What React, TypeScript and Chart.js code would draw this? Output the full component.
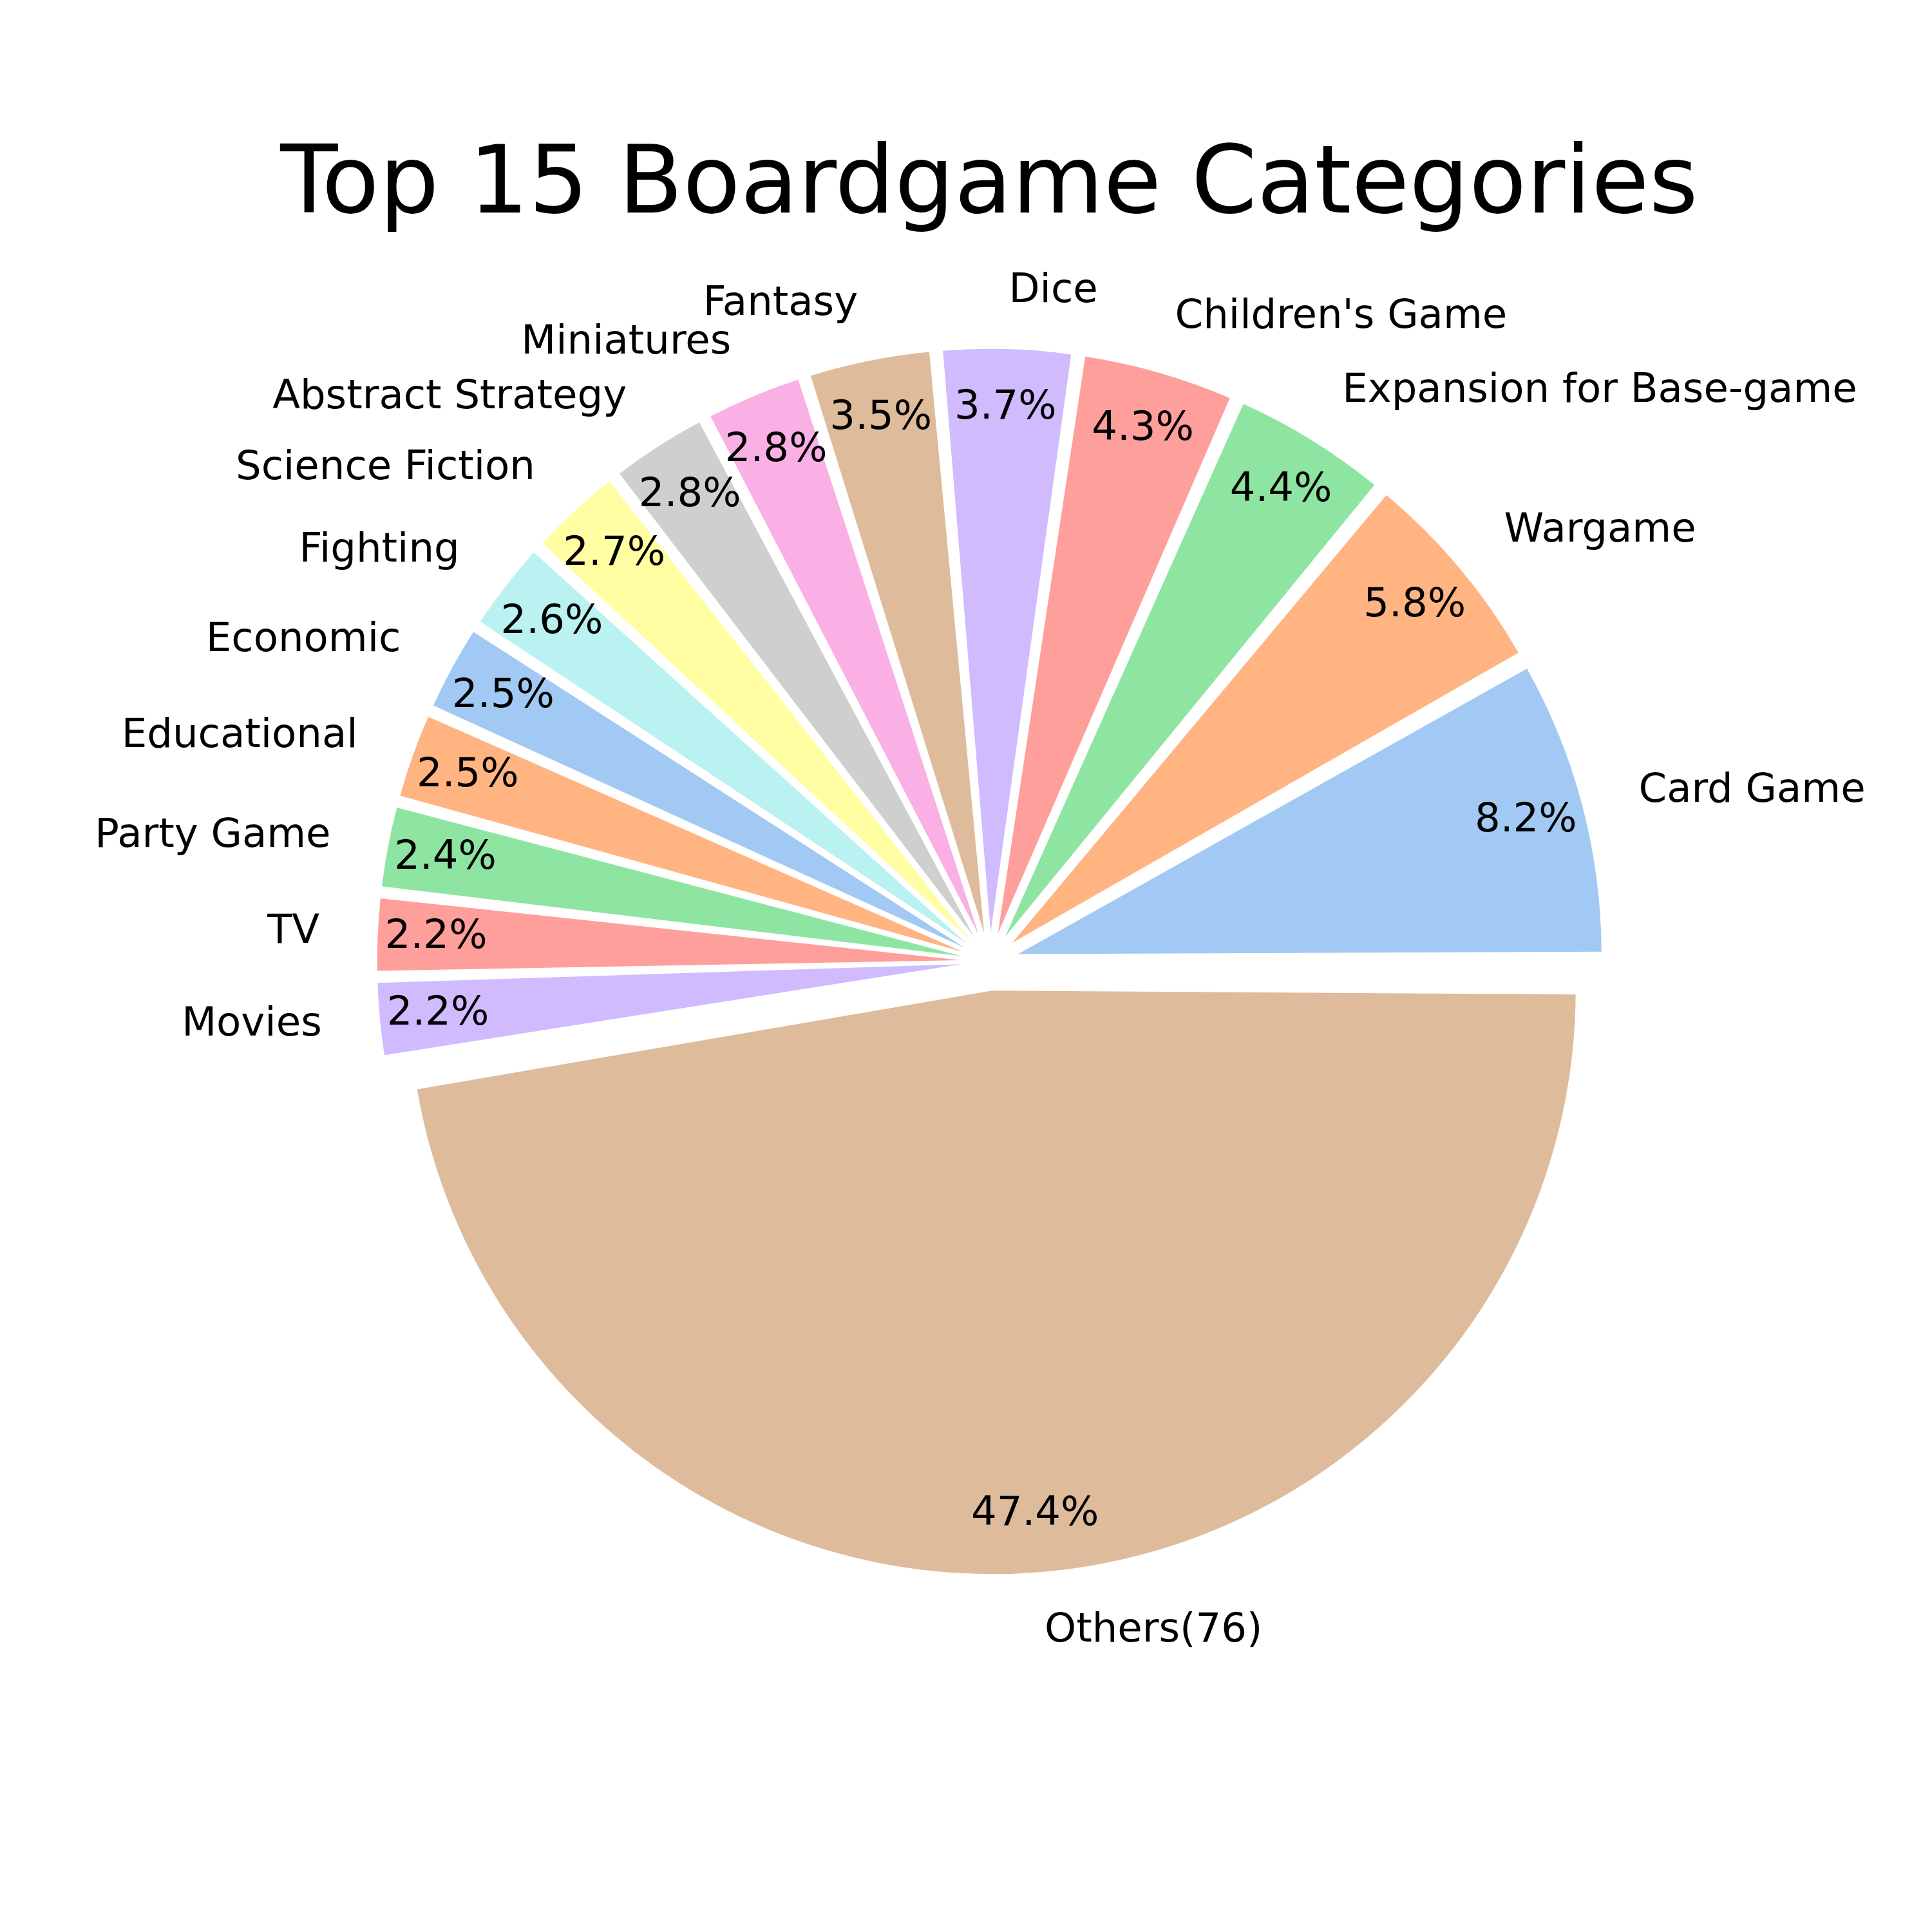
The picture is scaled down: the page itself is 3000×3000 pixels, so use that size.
import React, { useEffect, useRef } from "react";
import { Chart, registerables } from "chart.js";

Chart.register(...registerables);

const categories = [
  "Card Game",
  "Wargame",
  "Expansion for Base-game",
  "Children's Game",
  "Dice",
  "Fantasy",
  "Miniatures",
  "Abstract Strategy",
  "Science Fiction",
  "Fighting",
  "Economic",
  "Educational",
  "Party Game",
  "TV",
  "Movies",
  "Others(76)",
];

const shares = [8.2, 5.8, 4.4, 4.3, 3.7, 3.5, 2.8, 2.8, 2.7, 2.6, 2.5, 2.5, 2.4, 2.2, 2.2, 47.4];

const palette = [
  "#a1c9f4", "#ffb482", "#8de5a1", "#ff9f9b", "#d0bbff",
  "#debb9b", "#fab0e4", "#cfcfcf", "#fffea3", "#b9f2f0",
];

const TITLE = "Top 15 Boardgame Categories";
const FONT = '"DejaVu Sans", "Liberation Sans", sans-serif';
const R = 906; // nominal pie radius
const EXPLODE = 0.05;

export default function App() {
  const ref = useRef<HTMLCanvasElement | null>(null);

  useEffect(() => {
    const canvas = ref.current;
    if (!canvas) return;
    // matplotlib draws counter-clockwise from 3 o'clock; Chart.js draws clockwise,
    // so feed the slices in reverse order starting at 3 o'clock.
    const labels = categories.slice().reverse();
    const values = shares.slice().reverse();
    const colors = categories.map((_, i) => palette[i % palette.length]).reverse();
    const shift = EXPLODE * R;

    const explodePlugin = {
      id: "mplExplode",
      afterUpdate(chart: any) {
        // Chart.js enlarges offset arcs by offset/4 * (1 - sin(circumference));
        // compensate so every exploded wedge keeps the same radius.
        const meta = chart.getDatasetMeta(0);
        meta.data.forEach((arc: any) => {
          const fix = 1 - Math.sin(Math.min(Math.PI, arc.circumference || 0));
          arc.outerRadius = R - shift * fix;
        });
      },
    };

    const labelPlugin = {
      id: "mplLabels",
      afterDraw(chart: any) {
        const ctx = chart.ctx as CanvasRenderingContext2D;
        const meta = chart.getDatasetMeta(0);
        const total = values.reduce((a, b) => a + b, 0);
        ctx.save();
        ctx.fillStyle = "#000";
        // title
        ctx.font = `146px ${FONT}`;
        ctx.textAlign = "center";
        ctx.textBaseline = "alphabetic";
        ctx.fillText(TITLE, 1536, 330);
        const fs = 62.5;
        ctx.font = `${fs}px ${FONT}`;
        const base = fs * 0.276;
        meta.data.forEach((arc: any, i: number) => {
          const mid = (arc.startAngle + arc.endAngle) / 2;
          const c = Math.cos(mid);
          const s = Math.sin(mid);
          const wx = arc.x + c * shift;
          const wy = arc.y + s * shift;
          // outer label
          const lx = wx + c * 1.1 * R;
          const ly = wy + s * 1.1 * R;
          ctx.textAlign = lx - arc.x > 0 ? "left" : "right";
          ctx.fillText(labels[i], lx, ly + base);
          // percentage
          const px = wx + c * 0.9 * R;
          const py = wy + s * 0.9 * R;
          ctx.textAlign = "center";
          ctx.fillText(((values[i] / total) * 100).toFixed(1) + "%", px, py + base);
        });
        ctx.restore();
      },
    };

    const chart = new Chart(canvas, {
      type: "pie",
      data: {
        labels,
        datasets: [
          {
            data: values,
            backgroundColor: colors,
            borderWidth: 0,
            offset: 4 * shift,
            radius: R - shift * 0.84,
          } as any,
        ],
      },
      options: {
        responsive: false,
        devicePixelRatio: 1,
        animation: false,
        events: [],
        rotation: 90,
        layout: { padding: { left: 74, right: 0, top: 0, bottom: 14 } },
        plugins: {
          legend: { display: false },
          tooltip: { enabled: false },
          title: { display: false },
        },
      } as any,
      plugins: [explodePlugin, labelPlugin],
    });
    return () => chart.destroy();
  }, []);

  return (
    <div style={{ position: "absolute", left: 0, top: 0, width: 3000, height: 3000, background: "#fff" }}>
      <canvas ref={ref} width={3000} height={3000} style={{ width: 3000, height: 3000 }} />
    </div>
  );
}
